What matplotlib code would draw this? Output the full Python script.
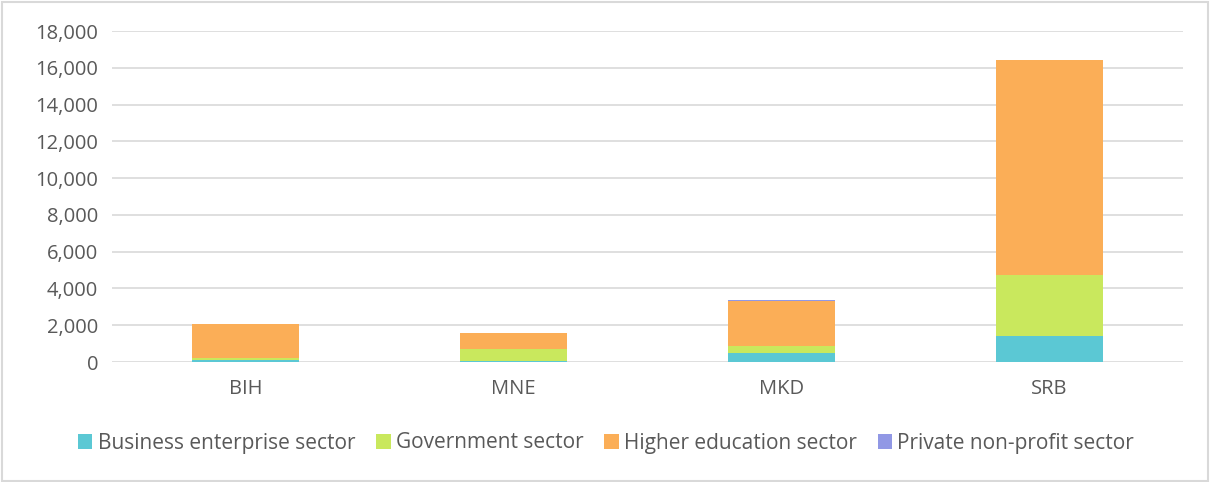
import matplotlib.pyplot as plt
import numpy as np
from matplotlib.ticker import FuncFormatter

plt.rcParams['font.family'] = ['Open Sans', 'DejaVu Sans']

countries = ["BIH", "MNE", "MKD", "SRB"]
sectors = ["Business enterprise sector", "Government sector",
           "Higher education sector", "Private non-profit sector"]
business = [130, 60, 510, 1420]
government = [90, 650, 365, 3330]
higher_edu = [1840, 870, 2420, 11675]
private_np = [10, 20, 75, 5]

colors = ["#5BC8D4", "#C9E85D", "#FBAE57", "#9198E5"]

fig = plt.figure(figsize=(12.12, 4.82), dpi=100)
ax = fig.add_axes([112/1212, 1-362/482, (1183-112)/1212, (362-31)/482])

x = np.arange(len(countries))
bottom = np.zeros(len(countries))
for name, vals, c in zip(sectors, [business, government, higher_edu, private_np], colors):
    ax.bar(x, vals, 0.4, bottom=bottom, color=c, label=name, zorder=3)
    bottom += np.array(vals)

ax.set_xlim(-0.5, 3.5)
ax.set_ylim(0, 18000)
ax.set_yticks(np.arange(0, 18001, 2000))
ax.yaxis.set_major_formatter(FuncFormatter(lambda v, p: f"{int(v):,}"))
ax.set_xticks(x)
ax.set_xticklabels(countries)
ax.grid(axis='y', color='#d9d9d9', linewidth=1.2, zorder=0)
for s in ax.spines.values():
    s.set_visible(False)
ax.tick_params(length=0, labelsize=14.5, colors='#595959', pad=10)
ax.tick_params(axis='x', pad=12)

fig.legend(loc='center', bbox_to_anchor=(0.5, 1-443/482), ncol=4, frameon=False,
           handlelength=0.7, handleheight=0.7, handletextpad=0.25, columnspacing=1.0,
           fontsize=15, labelcolor='#595959')

fig.patches.append(plt.Rectangle((0.002, 0.003), 0.995, 0.993, transform=fig.transFigure,
                                 fill=False, edgecolor='#d9d9d9', linewidth=1.5))
fig.savefig("out.png", dpi=100)
